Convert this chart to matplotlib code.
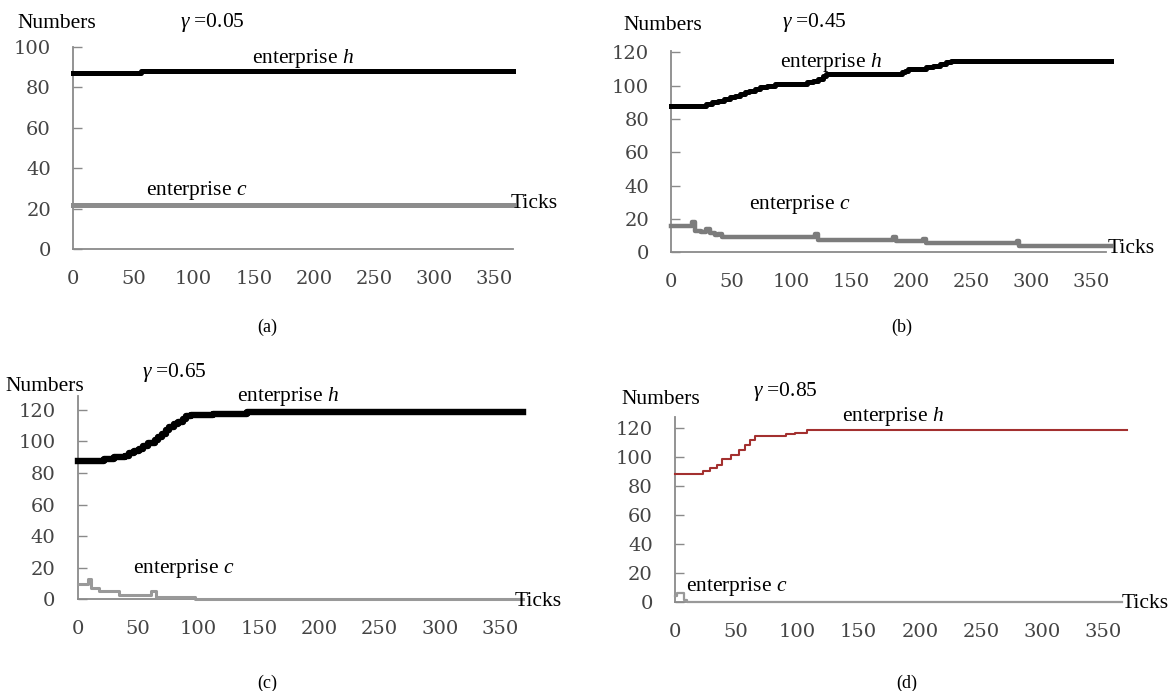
import matplotlib
matplotlib.use('Agg')
from matplotlib import pyplot as plt

plt.rcParams['mathtext.fontset'] = 'custom'
plt.rcParams['mathtext.rm'] = 'Liberation Serif'
plt.rcParams['mathtext.it'] = 'Liberation Serif:italic'

W, H = 1170, 691

# step data: change points (ticks) and values
a_h_x = [0, 56, 365]
a_h_y = [87, 88, 88]
a_c_x = [0, 365]
a_c_y = [22, 22]

b_h_x = [0, 29, 34, 39, 44, 49, 53, 57, 61, 65, 70, 74, 80, 86, 113, 118, 122,
         126, 129, 192, 195, 197, 212, 218, 224, 229, 233, 366]
b_h_y = [88, 89, 90, 91, 92, 93, 94, 95, 96, 97, 98, 99, 100, 101, 102, 103, 104,
         105.5, 107, 108, 109, 110, 111, 112, 113, 114, 114.5, 114.5]
b_c_x = [0, 17, 20, 25, 29, 32, 36, 39, 42, 120, 122, 185, 187, 210, 212, 288, 290, 366]
b_c_y = [16, 18, 13, 12, 14, 11.5, 10.5, 11, 9, 11, 7.5, 9, 6.5, 8, 5.5, 7, 4, 4]

c_h_x = [0, 22, 30, 39, 43, 47, 51, 54, 58, 64, 67, 70, 73, 76, 80, 83, 87, 90,
         94, 112, 140, 369]
c_h_y = [87.5, 89, 90, 91, 92.5, 94, 95.5, 97, 99, 101, 103, 105, 107, 109, 111,
         112.5, 114, 116, 117, 117.5, 119, 119]
c_c_x = [0, 9, 11, 18, 34, 61, 65, 97, 369]
c_c_y = [10, 13, 7, 5, 3, 5, 1.5, 0, 0]

d_h_x = [0, 23, 29, 34, 38, 46, 52, 57, 61, 65, 91, 98, 108, 369]
d_h_y = [88.5, 90.5, 92.5, 94.5, 99, 101.5, 105, 108.5, 112, 114.5, 116, 117, 118.5, 118.5]
d_c_x = [0, 2, 7, 10, 365]
d_c_y = [4, 6, 1, 0, 0]

x_ticks = [0, 50, 100, 150, 200, 250, 300, 350]

# panel layout in pixels: x of y-axis, px per tick, y of x-axis, px per unit
panels = [
    dict(x0=73.2, sx=1.204, y0=249.0, sy=2.02, ymax=100, xend=365,
         yt=[0, 20, 40, 60, 80, 100],
         h=(a_h_x, a_h_y), c=(a_c_x, a_c_y), hcol='black', hlw=3.6,
         ccol='#8c8c8c', clw=3.6, tag='(a)', tagpos=(267, 327),
         txt=[(17, 24, 'Numbers'), (180, 23, r'$\gamma$ =0.05'),
              (252, 58, r'enterprise $h$'), (146, 190, r'enterprise $c$'),
              (511, 204, 'Ticks')]),
    dict(x0=671.4, sx=1.2, y0=252.3, sy=1.667, ymax=121, xend=362,
         yt=[0, 20, 40, 60, 80, 100, 120],
         h=(b_h_x, b_h_y), c=(b_c_x, b_c_y), hcol='black', hlw=3.6,
         ccol='#7c7c7c', clw=3.2, tag='(b)', tagpos=(902, 327),
         txt=[(623, 25, 'Numbers'), (782, 23, r'$\gamma$ =0.45'),
              (780, 62, r'enterprise $h$'), (749, 205, r'enterprise $c$'),
              (1108, 249, 'Ticks')]),
    dict(x0=77.5, sx=1.208, y0=599.3, sy=1.578, ymax=129, xend=362,
         yt=[0, 20, 40, 60, 80, 100, 120],
         h=(c_h_x, c_h_y), c=(c_c_x, c_c_y), hcol='black', hlw=4.6,
         ccol='#999999', clw=2.2, tag='(c)', tagpos=(267, 683),
         txt=[(5, 387, 'Numbers'), (142, 373, r'$\gamma$ =0.65'),
              (237, 396, r'enterprise $h$'), (133, 568, r'enterprise $c$'),
              (515, 601, 'Ticks')]),
    dict(x0=675.0, sx=1.224, y0=601.7, sy=1.445, ymax=128, xend=359,
         yt=[0, 20, 40, 60, 80, 100, 120],
         h=(d_h_x, d_h_y), c=(d_c_x, d_c_y), hcol='#a3302f', hlw=1.5,
         ccol='#999999', clw=1.6, tag='(d)', tagpos=(907, 683),
         txt=[(621, 400, 'Numbers'), (753, 392, r'$\gamma$ =0.85'),
              (842, 417, r'enterprise $h$'), (686, 587, r'enterprise $c$'),
              (1122, 603, 'Ticks')]),
]

fig = plt.figure(figsize=(W / 100, H / 100), dpi=100)
fig.patch.set_facecolor('white')

xmax = 372
for p in panels:
    left = p['x0'] / W
    bottom = 1 - p['y0'] / H
    ax = fig.add_axes([left, bottom, xmax * p['sx'] / W, p['ymax'] * p['sy'] / H])
    ax.set_xlim(0, xmax)
    ax.set_ylim(0, p['ymax'])
    ax.step(p['c'][0], p['c'][1], where='post', color=p['ccol'], lw=p['clw'],
            clip_on=False, zorder=3)
    ax.step(p['h'][0], p['h'][1], where='post', color=p['hcol'], lw=p['hlw'],
            clip_on=False, zorder=4)
    for s in ['top', 'right']:
        ax.spines[s].set_visible(False)
    for s in ['left', 'bottom']:
        ax.spines[s].set_color('#8a8a8a')
        ax.spines[s].set_linewidth(1.3)
    ax.spines['bottom'].set_bounds(0, p['xend'])
    ax.set_xticks(x_ticks)
    ax.set_yticks(p['yt'])
    ax.tick_params(axis='x', length=0, pad=15, labelsize=14, labelcolor='#444444',
                   labelfontfamily='DejaVu Serif')
    ax.tick_params(axis='y', direction='in', length=6.5, width=1, color='#8a8a8a',
                   pad=16, labelsize=14, labelcolor='#444444',
                   labelfontfamily='DejaVu Serif')
    for x, y, s in p['txt']:
        fig.text(x / W, 1 - y / H, s, ha='left', va='center', fontsize=15.5,
                 family='Liberation Serif')
    fig.text(p['tagpos'][0] / W, 1 - p['tagpos'][1] / H, p['tag'], ha='center',
             va='center', fontsize=13, family='Liberation Serif')

plt.savefig('out.png', dpi=100)
